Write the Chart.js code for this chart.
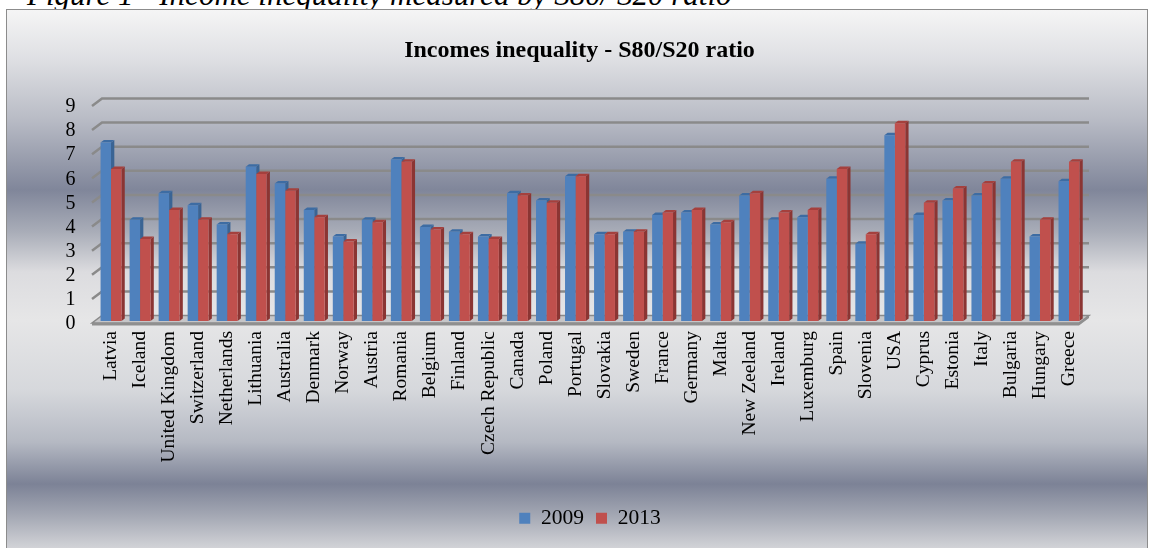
<!DOCTYPE html>
<html>
<head>
<meta charset="utf-8">
<script src="https://cdn.jsdelivr.net/npm/chart.js@4.4.0/dist/chart.umd.min.js"></script>
<style>
    html, body { margin: 0; padding: 0; background: #fff; }
    body { width: 1155px; height: 548px; position: relative; overflow: hidden; }
    #caption {
        position: absolute; left: 27px; top: -21px;
        font: italic 31px 'Liberation Serif', serif; line-height: 31px;
        white-space: nowrap; color: #000;
    }
    #frame {
        position: absolute; left: 6px; top: 9px; width: 1140px; height: 560px;
        border: 1.5px solid #8c8c8c;
        background: linear-gradient(to bottom,
            #f5f5f5 0px, #dedfe3 50px, #b8bbc5 110px, #80869a 180px,
            #a9adb8 222px, #dcdcdf 262px, #e6e6e7 310px, #d6d8dc 380px,
            #b5b9c3 432px, #7c8296 474px, #a3a7b3 505px, #d3d4d8 539px);
    }
    #chart { position: absolute; left: 0; top: 0; }
</style>
</head>
<body>
<div id="caption">Figure 1 - Income inequality measured by S80/ S20 ratio</div>
<div id="frame"></div>
<canvas id="chart" width="1155" height="548"></canvas>
<script>
"use strict";

const TITLE = 'Incomes inequality - S80/S20 ratio';
const COUNTRIES = ['Latvia', 'Iceland', 'United Kingdom', 'Switzerland', 'Netherlands', 'Lithuania',
    'Australia', 'Denmark', 'Norway', 'Austria', 'Romania', 'Belgium', 'Finland', 'Czech Republic',
    'Canada', 'Poland', 'Portugal', 'Slovakia', 'Sweden', 'France', 'Germany', 'Malta', 'New Zeeland',
    'Ireland', 'Luxemburg', 'Spain', 'Slovenia', 'USA', 'Cyprus', 'Estonia', 'Italy', 'Bulgaria',
    'Hungary', 'Greece'];
const RATIO_2009 = [7.4, 4.2, 5.3, 4.8, 4.0, 6.4, 5.7, 4.6, 3.5, 4.2, 6.7, 3.9, 3.7, 3.5, 5.3, 5.0, 6.0,
    3.6, 3.7, 4.4, 4.5, 4.0, 5.2, 4.2, 4.3, 5.9, 3.2, 7.7, 4.4, 5.0, 5.2, 5.9, 3.5, 5.8];
const RATIO_2013 = [6.3, 3.4, 4.6, 4.2, 3.6, 6.1, 5.4, 4.3, 3.3, 4.1, 6.6, 3.8, 3.6, 3.4, 5.2, 4.9, 6.0,
    3.6, 3.7, 4.5, 4.6, 4.1, 5.3, 4.5, 4.6, 6.3, 3.6, 8.2, 4.9, 5.5, 5.7, 6.6, 4.2, 6.6];
const Y_TICKS = [0, 1, 2, 3, 4, 5, 6, 7, 8, 9];

const FONT = "'Liberation Serif', 'Times New Roman', serif";

// back wall gridlines and the floor, offset from the front plane
const walls = {
    id: 'walls',
    beforeDatasetsDraw(chart) {
        const { ctx, chartArea: { left, right }, scales: { y } } = chart;
        const fl = left - 4.5, fr = right - 4.5, bl = left + 5.5, br = right + 5.5;
        ctx.save();
        ctx.strokeStyle = '#8a8a8a';
        ctx.lineWidth = 2.5;
        Y_TICKS.forEach(v => {
            if (v === 0) return;
            const p = y.getPixelForValue(v);
            ctx.beginPath();
            ctx.moveTo(fl, p + 2);
            ctx.lineTo(bl, p - 5.5);
            ctx.lineTo(br, p - 5.5);
            ctx.stroke();
        });
        // floor
        const y0 = y.getPixelForValue(0);
        ctx.fillStyle = '#c6c6c8';
        ctx.beginPath();
        ctx.moveTo(fl, y0 + 2);
        ctx.lineTo(fr, y0 + 2);
        ctx.lineTo(br, y0 - 5.5);
        ctx.lineTo(bl, y0 - 5.5);
        ctx.closePath();
        ctx.fill();
        ctx.lineWidth = 1.5;
        ctx.stroke();
        ctx.fillStyle = '#8f8f8f';
        ctx.beginPath();
        ctx.moveTo(fl, y0 + 2);
        ctx.lineTo(fr, y0 + 2);
        ctx.lineTo(br, y0 - 5.5);
        ctx.lineTo(br, y0 - 3);
        ctx.lineTo(fr, y0 + 4.5);
        ctx.lineTo(fl, y0 + 4.5);
        ctx.closePath();
        ctx.fill();
        ctx.restore();
    }
};

// top caps and side faces of the columns
const DX = 3.3, DY = 2.5;
const bar3d = {
    id: 'bar3d',
    beforeDatasetsDraw(chart) {
        const ctx = chart.ctx;
        ctx.save();
        chart.data.datasets.forEach((ds, i) => {
            chart.getDatasetMeta(i).data.forEach(bar => {
                const { x, y, base, width } = bar.getProps(['x', 'y', 'base', 'width'], true);
                const l = x - width / 2, r = x + width / 2;
                ctx.fillStyle = ds.sideColor;
                ctx.beginPath();
                ctx.moveTo(r, y);
                ctx.lineTo(r + DX, y - DY);
                ctx.lineTo(r + DX, base - DY);
                ctx.lineTo(r, base);
                ctx.closePath();
                ctx.fill();
                ctx.fillStyle = ds.topColor;
                ctx.beginPath();
                ctx.moveTo(l, y);
                ctx.lineTo(l + DX, y - DY);
                ctx.lineTo(r + DX, y - DY);
                ctx.lineTo(r, y);
                ctx.closePath();
                ctx.fill();
            });
        });
        ctx.restore();
    }
};

new Chart(document.getElementById('chart'), {
    type: 'bar',
    data: {
        labels: COUNTRIES,
        datasets: [
            {
                label: '2009',
                data: RATIO_2009,
                backgroundColor: '#4f81bd',
                sideColor: '#3a6494',
                topColor: '#3d6ca3',
                borderWidth: 0,
                categoryPercentage: 0.72,
                barPercentage: 1
            },
            {
                label: '2013',
                data: RATIO_2013,
                backgroundColor: '#c0504d',
                sideColor: '#8b3533',
                topColor: '#a5403d',
                borderWidth: 0,
                categoryPercentage: 0.72,
                barPercentage: 1
            }
        ]
    },
    options: {
        responsive: false,
        animation: false,
        layout: { padding: { top: 36, left: 8, right: 4, bottom: 9 } },
        plugins: {
            title: {
                display: true,
                text: TITLE,
                color: '#000',
                font: { family: FONT, size: 24, weight: 'bold' },
                padding: { top: 0, bottom: 39.2 }
            },
            legend: {
                position: 'bottom',
                fullSize: false,
                labels: {
                    boxWidth: 11,
                    boxHeight: 11,
                    padding: 12,
                    color: '#000',
                    font: { family: FONT, size: 21.5 }
                }
            },
            tooltip: { enabled: false }
        },
        scales: {
            x: {
                grid: { display: false },
                border: { display: false },
                ticks: {
                    minRotation: 90,
                    maxRotation: 90,
                    autoSkip: false,
                    padding: 2,
                    color: '#000',
                    font: { family: FONT, size: 19.5 }
                },
                afterFit(scale) { scale.height = 174.5; }
            },
            y: {
                min: 0,
                max: 9,
                grid: { display: false },
                border: { display: false },
                ticks: {
                    stepSize: 1,
                    autoSkip: false,
                    padding: 13,
                    labelOffset: 3,
                    color: '#000',
                    font: { family: FONT, size: 20 }
                },
                afterFit(scale) { scale.width = 88.5; }
            },
            pad: {
                type: 'linear',
                position: 'right',
                grid: { display: false },
                border: { display: false },
                ticks: { display: false },
                afterFit(scale) { scale.width = 67.5; }
            }
        }
    },
    plugins: [walls, bar3d]
});
</script>
</body>
</html>
